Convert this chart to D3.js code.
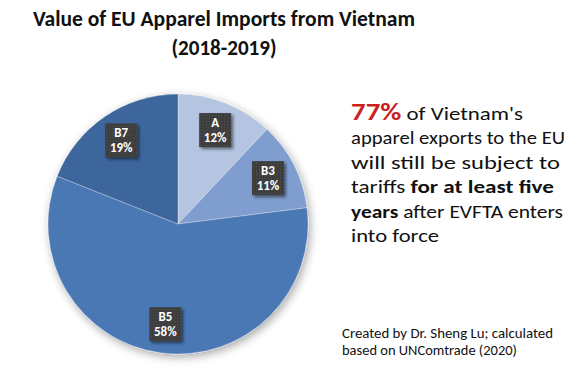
<!DOCTYPE html>
<html><head><meta charset="utf-8">
<script src="https://cdn.jsdelivr.net/npm/d3@7"></script>
<style>body{margin:0;background:#fff}svg{display:block}</style>
</head><body>
<svg id="c" width="579" height="368"></svg>
<script>
const categories = ["A", "B3", "B5", "B7"];
const shares = [12, 11, 58, 19];
const sliceColors = ["#b4c4e1", "#7f9dcf", "#4a78b5", "#3c669c"];
const titleLines = ["Value of EU Apparel Imports from Vietnam", "(2018-2019)"];

const svg = d3.select("#c");
const font = "Calibri, Carlito, Lato, 'Open Sans', sans-serif";
const defs = svg.append("defs");
const f = defs.append("filter").attr("id","sh").attr("x","-20%").attr("y","-20%").attr("width","140%").attr("height","140%");
f.append("feGaussianBlur").attr("in","SourceAlpha").attr("stdDeviation",5);
f.append("feOffset").attr("dx",2).attr("dy",3).attr("result","b");
f.append("feComponentTransfer").append("feFuncA").attr("type","linear").attr("slope",0.35);
const m = f.append("feMerge"); m.append("feMergeNode"); m.append("feMergeNode").attr("in","SourceGraphic");
const p = defs.append("pattern").attr("id","dots").attr("width",3).attr("height",3).attr("patternUnits","userSpaceOnUse");
p.append("rect").attr("width",3).attr("height",3).attr("fill","#3d3d3d");
p.append("rect").attr("width",1).attr("height",1).attr("fill","#555");
const lf = defs.append("filter").attr("id","lsh").attr("x","-30%").attr("y","-30%").attr("width","160%").attr("height","160%");
lf.append("feGaussianBlur").attr("in","SourceAlpha").attr("stdDeviation",1.5);
lf.append("feOffset").attr("dx",1.5).attr("dy",1.5);
lf.append("feComponentTransfer").append("feFuncA").attr("type","linear").attr("slope",0.5);
const lm = lf.append("feMerge"); lm.append("feMergeNode"); lm.append("feMergeNode").attr("in","SourceGraphic");

// title
svg.selectAll("text.title").data(titleLines).join("text")
  .attr("x",224).attr("y",(d,i)=>26+i*29).attr("text-anchor","middle")
  .attr("font-family",font).attr("font-weight","bold").attr("font-size",22).attr("fill","#111")
  .attr("textLength",(d,i)=>i===0?382:105).attr("lengthAdjust","spacingAndGlyphs").text(d=>d);

const cx=178, cy=224, r=130;
const data = categories.map((c,i)=>({cat:c, v:shares[i]}));
const pie = d3.pie().value(d=>d.v).sort(null);
const arcs = pie(data);
const arc = d3.arc().innerRadius(0).outerRadius(r);
const g = svg.append("g").attr("transform",`translate(${cx},${cy})`);
g.append("g").attr("filter","url(#sh)").selectAll("path").data(arcs).join("path")
  .attr("d",arc).attr("fill",(d,i)=>sliceColors[i]).attr("stroke","#fff").attr("stroke-width",0.6).attr("stroke-opacity",0.5);

const lab = d3.arc().innerRadius(101).outerRadius(101);
const lg = g.selectAll("g.lab").data(arcs).join("g").attr("class","lab")
  .attr("transform",d=>{const c=lab.centroid(d);return `translate(${c[0]},${c[1]})`;});
lg.append("rect").attr("x",-16).attr("y",-17).attr("width",32).attr("height",34)
  .attr("fill","url(#dots)").attr("filter","url(#lsh)");
lg.append("text").attr("y",-3).attr("text-anchor","middle").attr("font-family",font)
  .attr("font-size",13).attr("font-weight","bold").attr("fill","#fff").text(d=>d.data.cat);
lg.append("text").attr("y",12).attr("text-anchor","middle").attr("font-family",font)
  .attr("font-size",13).attr("font-weight","bold").attr("fill","#fff").text(d=>d.data.v+"%");

// annotation
const ax=351, ay=120, lh=24.4;
const lines = [
  [["77%","red"],[" of Vietnam's","n"]],
  [["apparel exports to the EU","n"]],
  [["will still be subject to","n"]],
  [["tariffs ","n"],["for at least five","b"]],
  [["years","b"],[" after EVFTA enters","n"]],
  [["into force","n"]]
];
const widths=[172,214,209,203,212,88];
lines.forEach((ln,i)=>{
  const t = svg.append("text").attr("x",ax).attr("y",ay+i*lh).attr("font-family",font)
    .attr("font-size",19).attr("fill","#111").attr("textLength",widths[i]).attr("lengthAdjust","spacingAndGlyphs");
  ln.forEach(([s,st])=>{
    const ts=t.append("tspan").text(s);
    if(st==="red") ts.attr("fill","#cc1f1f").attr("font-weight","bold").attr("font-size",24);
    if(st==="b") ts.attr("font-weight","bold");
  });
});
svg.append("text").attr("x",342).attr("y",338).attr("font-family",font).attr("font-size",13.5).attr("fill","#111")
  .attr("textLength",211).attr("lengthAdjust","spacingAndGlyphs").text("Created by Dr. Sheng Lu; calculated");
svg.append("text").attr("x",342).attr("y",355).attr("font-family",font).attr("font-size",13.5).attr("fill","#111")
  .attr("textLength",175).attr("lengthAdjust","spacingAndGlyphs").text("based on UNComtrade (2020)");
</script>
</body></html>
